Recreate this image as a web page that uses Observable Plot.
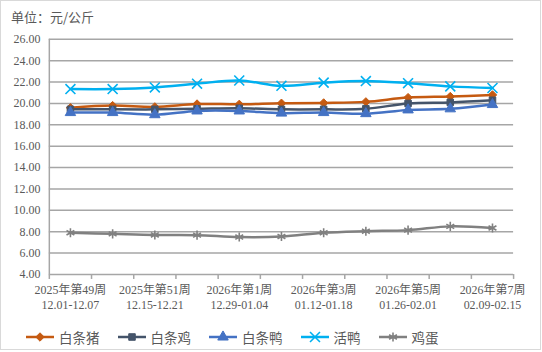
<!DOCTYPE html>
<html>
<head>
<meta charset="utf-8">
<script src="https://cdn.jsdelivr.net/npm/d3@7"></script>
<script src="https://cdn.jsdelivr.net/npm/@observablehq/plot@0.6"></script>
<style>
  html, body { margin: 0; padding: 0; background: #fff; }
  #wrap { position: relative; width: 541px; height: 350px; border: 1px solid #d9d9d9; box-sizing: border-box; overflow: hidden; font-family: "Liberation Serif", "Noto Sans CJK SC", sans-serif; }
  #title { position: absolute; left: 10px; top: 6px; font-size: 13px; color: #595959; font-family: "Noto Sans CJK SC", sans-serif; }
  #chart { position: absolute; left: -1px; top: -1px; }
  #legend { position: absolute; left: 25px; top: 326px; display: flex; align-items: center; font-family: "Noto Sans CJK SC", sans-serif; font-size: 13.5px; color: #595959; }
  .item { display: flex; align-items: center; margin-right: 18px; }
  .item svg { margin-right: 5px; }
</style>
</head>
<body>
<div id="wrap">
  <div id="title">单位：元/公斤</div>
  <div id="chart"></div>
  <div id="legend"></div>
</div>
<script>
const weeks = ["2025年第49周", "2025年第50周", "2025年第51周", "2025年第52周", "2026年第1周", "2026年第2周", "2026年第3周", "2026年第4周", "2026年第5周", "2026年第6周", "2026年第7周"];
const dates = ["12.01-12.07", "12.08-12.14", "12.15-12.21", "12.22-12.28", "12.29-01.04", "01.05-01.11", "01.12-01.18", "01.19-01.25", "01.26-02.01", "02.02-02.08", "02.09-02.15"];
const seriesNames = ["白条猪", "白条鸡", "白条鸭", "活鸭", "鸡蛋"];
const pork      = [19.60, 19.80, 19.68, 19.95, 19.92, 20.02, 20.05, 20.15, 20.55, 20.65, 20.80];
const chicken   = [19.45, 19.45, 19.45, 19.50, 19.55, 19.45, 19.45, 19.50, 20.00, 20.10, 20.30];
const duck      = [19.15, 19.15, 18.95, 19.30, 19.30, 19.10, 19.15, 19.05, 19.40, 19.50, 19.90];
const liveDuck  = [21.35, 21.35, 21.50, 21.85, 22.15, 21.65, 21.95, 22.10, 21.90, 21.60, 21.45];
const eggs      = [7.90, 7.80, 7.70, 7.68, 7.50, 7.55, 7.90, 8.05, 8.15, 8.50, 8.35];
const yTicks = [4, 6, 8, 10, 12, 14, 16, 18, 20, 22, 24, 26];

const seriesValues = [pork, chicken, duck, liveDuck, eggs];
const colors = ["#C55A11", "#44546A", "#4472C4", "#00B0F0", "#808080"];
const symbols = ["diamond2", "square", "triangle", "times", "asterisk"];
const radii = [3.8, 3.7, 3.9, 4.6, 4.3];
const filled = [true, true, true, false, false];

const marks = [
  Plot.gridY({ticks: yTicks, stroke: "#a6a6a6", strokeOpacity: 1, strokeWidth: 1.5}),
  Plot.ruleX([-0.5], {stroke: "#a6a6a6", strokeWidth: 1.5}),
  Plot.axisY({ticks: yTicks, tickSize: 0, tickPadding: 9, tickFormat: d => d.toFixed(2), fontSize: 12, fill: "#595959", label: null}),
  Plot.axisX({ticks: d3.range(-0.5, 11, 1), tickSize: 5, stroke: "#a6a6a6", strokeWidth: 1.5, tickFormat: () => "", label: null}),
  Plot.axisX({ticks: d3.range(0, 11, 2), tickSize: 0, tickPadding: 10, tickFormat: i => weeks[i] + "\n" + dates[i], fontSize: 12, lineHeight: 1.18, fill: "#595959", label: null})
];

seriesNames.forEach((name, k) => {
  const data = seriesValues[k].map((v, i) => ({i, v}));
  marks.push(Plot.line(data, {x: "i", y: "v", stroke: colors[k], strokeWidth: 2.5, curve: "catmull-rom"}));
  marks.push(Plot.dot(data, filled[k]
    ? {x: "i", y: "v", symbol: () => symbols[k], r: radii[k], fill: colors[k], stroke: colors[k], strokeWidth: 1}
    : {x: "i", y: "v", symbol: () => symbols[k], r: radii[k], stroke: colors[k], strokeWidth: 1.6, fill: "none"}));
});

const chart = Plot.plot({
  width: 542,
  height: 318,
  marginTop: 39,
  marginBottom: 43,
  marginLeft: 49,
  marginRight: 27,
  style: {background: "transparent", fontFamily: "'Liberation Serif', 'Noto Sans CJK SC', sans-serif", color: "#595959"},
  x: {type: "linear", domain: [-0.5, 10.5]},
  y: {domain: [4, 26]},
  symbol: {type: "identity"},
  marks
});
document.getElementById("chart").appendChild(chart);

// legend
const legend = d3.select("#legend");
const symMap = {diamond2: d3.symbolDiamond2, square: d3.symbolSquare, triangle: d3.symbolTriangle, times: d3.symbolTimes, asterisk: d3.symbolAsterisk};
seriesNames.forEach((name, k) => {
  const item = legend.append("div").attr("class", "item");
  const svg = item.append("svg").attr("width", 28).attr("height", 14);
  svg.append("line").attr("x1", 0).attr("x2", 28).attr("y1", 7).attr("y2", 7).attr("stroke", colors[k]).attr("stroke-width", 2.5);
  const r = radii[k];
  svg.append("path").attr("transform", "translate(14,7)")
    .attr("d", d3.symbol(symMap[symbols[k]], r * r * Math.PI)())
    .attr("fill", filled[k] ? colors[k] : "none")
    .attr("stroke", colors[k]).attr("stroke-width", filled[k] ? 1 : 1.6);
  item.append("span").text(name);
});
</script>
</body>
</html>
